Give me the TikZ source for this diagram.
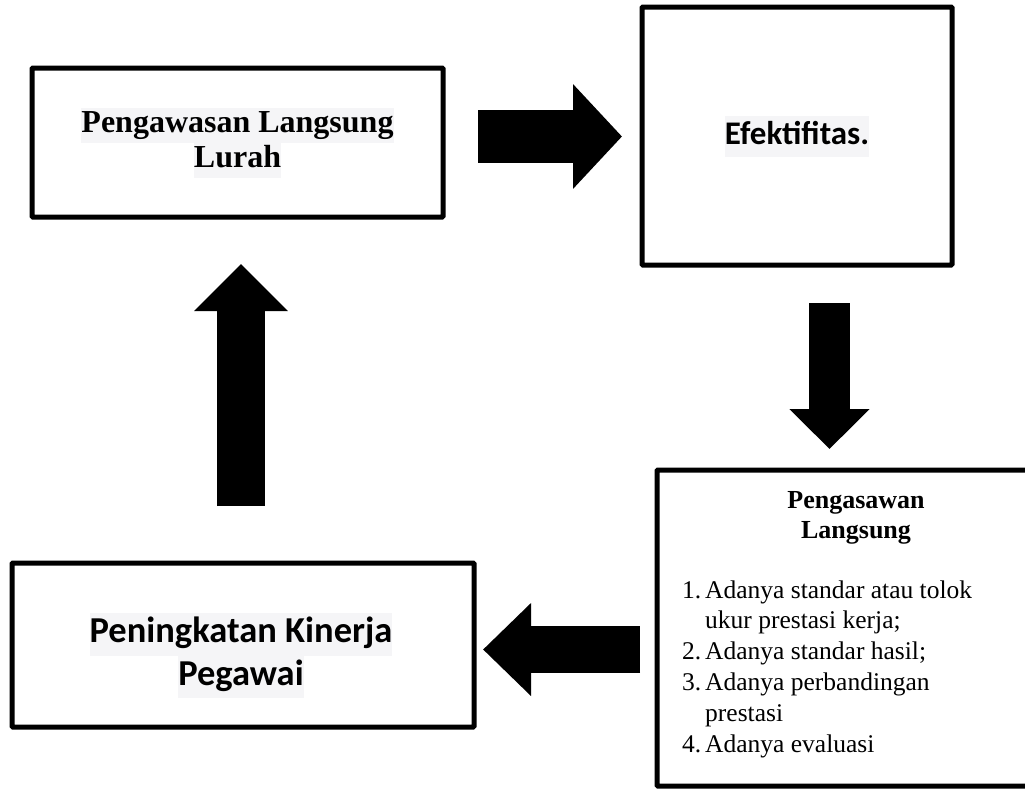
\documentclass[tikz,border=0pt]{standalone}
\usepackage{fontspec}
\setmainfont{Liberation Serif}
\newfontfamily\calibri{Carlito}
\usepackage{xcolor}
\usetikzlibrary{arrows.meta}
\definecolor{hlgray}{RGB}{245,245,247}
\setlength{\fboxsep}{0pt}
\newcommand{\hlline}[1]{\colorbox{hlgray}{\strut #1}}

\begin{document}
\begin{tikzpicture}[x=1pt,y=-1pt,
  box/.style={draw=black, line width=5pt, rounded corners=1pt, inner sep=0pt},
  serifhead/.style={font=\bfseries\fontsize{32}{35}\selectfont, align=center},
  sanshead/.style={font=\calibri\bfseries\fontsize{36.5}{42.5}\selectfont, align=center}]
\clip (0,0) rectangle (1025,788);
% Boxes
\node[box, minimum width=411pt, minimum height=149pt, serifhead] (lurah) at (237.5,142.5)
  {\hlline{Pengawasan Langsung}\\\hlline{Lurah}};
\node[box, minimum width=310pt, minimum height=258pt, font=\calibri\bfseries\fontsize{33}{41}\selectfont] (efektif) at (797,136)
  {\hlline{Efektifitas.}};
\node[box, minimum width=403pt, minimum height=316pt] (pengasawan) at (858.5,628) {};
\node[box, minimum width=462pt, minimum height=164pt] (kinerja) at (243,645) {};
% Texts in the lower boxes
\node[sanshead] (kinerjatext) at (241,655.5) {\hlline{Peningkatan Kinerja}\\\hlline{Pegawai}};
\node[anchor=north, font=\bfseries\fontsize{26}{30}\selectfont, align=center, inner sep=0pt] (pengtitle) at (856,487)
  {\strut Pengasawan\\Langsung};
\node[anchor=north west, font=\fontsize{25.5}{30.8}\selectfont, align=left, inner sep=0pt] (penglist) at (682,576.4)
  {\strut\makebox[23pt][l]{1.}Adanya standar atau tolok\\
   \hspace*{23pt}ukur prestasi kerja;\\
   \makebox[23pt][l]{2.}Adanya standar hasil;\\
   \makebox[23pt][l]{3.}Adanya perbandingan\\
   \hspace*{23pt}prestasi\\
   \makebox[23pt][l]{4.}Adanya evaluasi};
% Block arrows
\coordinate (r0) at (478,136.5);
\coordinate (r1) at (622,136.5);
\coordinate (d0) at (829.5,303);
\coordinate (d1) at (829.5,449);
\coordinate (l0) at (640,649.5);
\coordinate (l1) at (483,649.5);
\coordinate (u0) at (241,506);
\coordinate (u1) at (241,264);
\draw[line width=53pt, -{Triangle[length=49pt, width=102pt]}] (r0) -- (r1);
\draw[line width=41pt, -{Triangle[length=40pt, width=78pt]}] (d0) -- (d1);
\draw[line width=47pt, -{Triangle[length=48pt, width=90pt]}] (l0) -- (l1);
\draw[line width=48pt, -{Triangle[length=47pt, width=91pt]}] (u0) -- (u1);
\end{tikzpicture}
\end{document}
